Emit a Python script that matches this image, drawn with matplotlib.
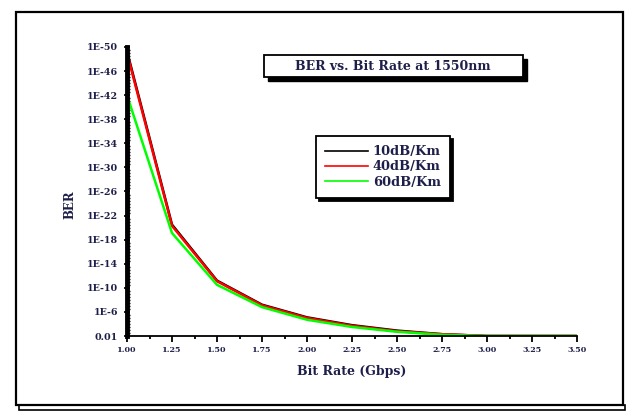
import matplotlib.pyplot as plt
from matplotlib.patches import Rectangle
from matplotlib.ticker import MultipleLocator

# bit rate (Gbps)
bit_rate = [1.00, 1.25, 1.50, 1.75, 2.00, 2.25, 2.50, 2.75, 3.00, 3.25, 3.50]

# BER, stored as -log10(BER)
ber_10db = [49.3, 20.5, 11.2, 7.2, 5.1, 3.8, 2.9, 2.3, 2.0, 2.0, 2.0]
ber_40db = [49.0, 20.3, 11.1, 7.1, 5.0, 3.7, 2.8, 2.3, 2.0, 2.0, 2.0]
ber_60db = [42.0, 19.1, 10.5, 6.8, 4.7, 3.5, 2.7, 2.2, 2.0, 2.0, 2.0]

series_names = ["10dB/Km", "40dB/Km", "60dB/Km"]
series_colors = ["black", "#ff0000", "#00ff00"]

xticks = [1.00, 1.25, 1.50, 1.75, 2.00, 2.25, 2.50, 2.75, 3.00, 3.25, 3.50]
yticks = [2, 6, 10, 14, 18, 22, 26, 30, 34, 38, 42, 46, 50]
ytick_labels = ["0.01", "1E-6", "1E-10", "1E-14", "1E-18", "1E-22", "1E-26",
                "1E-30", "1E-34", "1E-38", "1E-42", "1E-46", "1E-50"]

serif = "DejaVu Serif"
txt_col = "#1e1e4a"
W, H = 630, 412

fig = plt.figure(figsize=(6.3, 4.12), dpi=100)

def fx(px):
    return px / W

def fy(py):
    return 1 - py / H

# outer frame
fig.patches.append(Rectangle((fx(16), fy(405)), fx(607), 393 / H, transform=fig.transFigure,
                             fill=False, ec="black", lw=1.6))
fig.patches.append(Rectangle((fx(19), fy(410)), fx(606), 5 / H, transform=fig.transFigure,
                             fill=False, ec="black", lw=1.2))

ax = fig.add_axes([fx(127), fy(336), fx(450), 289 / H])

for vals, name, col in zip([ber_10db, ber_40db, ber_60db], series_names, series_colors):
    ax.plot(bit_rate, vals, color=col, lw=1.8, label=name)

ax.set_xlim(1.0, 3.5)
ax.set_ylim(2, 50)
ax.set_xticks(xticks)
ax.set_xticklabels([f"{x:.2f}" for x in xticks])
ax.xaxis.set_minor_locator(MultipleLocator(0.125))
ax.set_yticks(yticks)
ax.set_yticklabels(ytick_labels)
ax.yaxis.set_minor_locator(MultipleLocator(0.5))

ax.spines["top"].set_visible(False)
ax.spines["right"].set_visible(False)
ax.spines["left"].set_linewidth(3.5)
ax.spines["bottom"].set_linewidth(1.3)

ax.tick_params(axis="x", which="major", direction="out", length=4, width=1.3, pad=3)
ax.tick_params(axis="x", which="minor", direction="out", length=2.5, width=1.3)
ax.tick_params(axis="y", which="major", direction="inout", length=5, width=1.2, pad=4)
ax.tick_params(axis="y", which="minor", direction="in", length=2.5, width=1.0)

for lbl in ax.get_xticklabels():
    lbl.set_fontsize(5.8)
for lbl in ax.get_yticklabels():
    lbl.set_fontsize(6.8)
for lbl in ax.get_xticklabels() + ax.get_yticklabels():
    lbl.set_fontfamily(serif)
    lbl.set_fontweight("bold")
    lbl.set_color(txt_col)

ax.set_xlabel("Bit Rate (Gbps)", family=serif, weight="bold", fontsize=9,
              color=txt_col, labelpad=8)
fig.text(fx(70), fy(205), "BER", family=serif, weight="bold", fontsize=8.5,
         color=txt_col, rotation=90, ha="center", va="center")

# title box with shadow
fig.patches.append(Rectangle((fx(268), fy(81)), fx(259), 22 / H, transform=fig.transFigure,
                             fc="black", ec="black", lw=1))
fig.patches.append(Rectangle((fx(264), fy(77)), fx(259), 22 / H, transform=fig.transFigure,
                             fc="white", ec="black", lw=1.3))
fig.text(fx(393), fy(66.5), "BER vs. Bit Rate at 1550nm", family=serif, weight="bold",
         fontsize=9, color=txt_col, ha="center", va="center")

leg = ax.legend(loc="upper left", bbox_to_anchor=(fx(316), fy(136)), bbox_transform=fig.transFigure,
                borderaxespad=0, fancybox=False, edgecolor="black", framealpha=1,
                shadow={"color": "black", "alpha": 1},
                prop={"family": serif, "weight": "bold", "size": 9.4},
                handlelength=3.3, handletextpad=0.35, labelspacing=0.18,
                borderpad=0.7)
leg.get_frame().set_linewidth(1.3)
for t in leg.get_texts():
    t.set_color(txt_col)
for ln in leg.get_lines():
    ln.set_linewidth(1.2)

fig.savefig("out.png", dpi=100)
